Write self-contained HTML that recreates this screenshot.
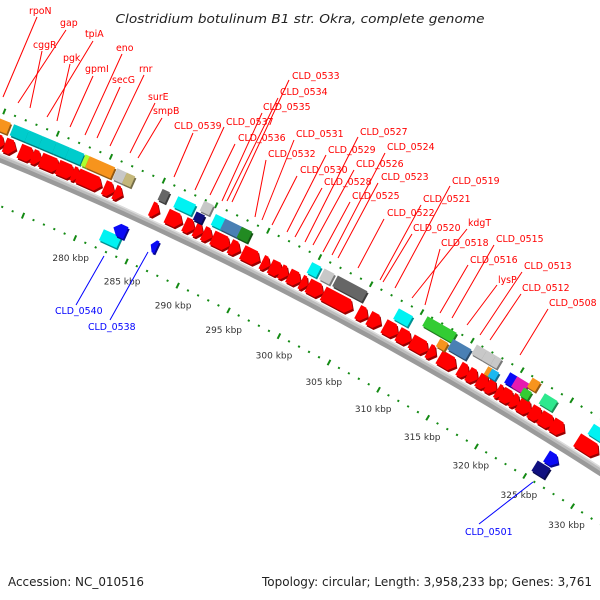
<!DOCTYPE html>
<html><head><meta charset="utf-8"><style>
html,body{margin:0;padding:0;background:#fff;}
svg{display:block;}
text{font-family:"DejaVu Sans","Liberation Sans",sans-serif;}
</style></head><body>
<svg id="map" width="600" height="600" viewBox="0 0 600 600" xmlns="http://www.w3.org/2000/svg">
<text x="300" y="23" text-anchor="middle" font-size="12.3" font-style="italic" fill="#222" textLength="369" lengthAdjust="spacingAndGlyphs">Clostridium botulinum B1 str. Okra, complete genome</text>
<g id="rings"></g>
<g id="backbone"></g>
<g id="features"></g>
<g id="labels"></g>
<text x="8" y="586" font-size="12" fill="#222" textLength="136" lengthAdjust="spacingAndGlyphs">Accession: NC_010516</text>
<text x="592" y="586" font-size="12" fill="#222" text-anchor="end" textLength="330" lengthAdjust="spacingAndGlyphs">Topology: circular; Length: 3,958,233 bp; Genes: 3,761</text>
</svg>
<script>
// ---- data (kbp) ----
const fwdStart = [270.3,271.1,272.5,273.7,274.5,276.1,277.5,278.0,280.5,281.5,285.0,286.5,288.2,289.2,290.0,290.9,292.6,293.8,295.7,296.5,297.5,298.3,299.5,300.2,301.7,305.1,306.2,307.7,309.1,310.4,312.1,313.2,315.2,316.1,317.1,318.0,319.0,319.5,320.5,321.2,322.4,323.4,324.6,327.2];
const fwdEnd   = [271.1,272.2,273.9,274.6,276.3,277.7,278.2,280.3,281.5,282.3,285.8,288.0,289.2,290.0,290.9,292.6,293.6,295.5,296.5,297.7,298.3,299.5,300.2,301.7,304.6,306.1,307.4,309.1,310.4,312.1,312.9,314.9,316.2,317.1,318.2,319.0,319.7,320.7,321.3,322.5,323.6,324.8,325.9,329.4];
const boxStart = [269.5,271.2,272.6,273.9,275.2,276.4,277.9,278.3,280.9,281.8,285.2,286.7,288.9,288.7,290.3,291.2,292.8,299.6,300.8,302.1,308.1,310.6,312.5,313.5,315.5,316.5,317.4,317.3,317.7,319.2,319.9,321.1,320.9,322.7,327.7];
const boxEnd   = [270.9,272.6,273.9,275.2,276.4,277.8,278.3,280.7,281.8,282.6,285.9,288.4,289.8,289.5,291.3,293.0,293.8,300.5,301.8,305.0,309.5,313.5,313.3,315.3,316.5,317.4,318.0,317.9,318.4,320.1,321.1,321.9,321.7,324.0,329.8];
const boxType  = ['orange','teal','teal','teal','teal','teal','lime','orange','silver','khaki','dimgray','cyan','silver','navy','cyan','steelblue','forest','cyan','silver','dimgray','cyan','limegreen','orange','steelblue','silver','silver','silver','orange','deepsky','blue','magenta','orange','limegreen','spring','cyan'];
const boxRow   = [0,0,0,0,0,0,0,0,0,0,0,0,2,1,0,0,0,0,0,0,0,2,1,0,2,2,2,1,1,0,0,2,1,0,0];
const revStart = [282.0,282.7,286.3,325.25,325.7];
const revEnd   = [283.7,283.9,286.9,326.55,326.9];
const revShape = ['box','rarrow','rarrow','box','farrow'];
const revType  = ['cyan','blue','blue','navy','blue'];
const revRow   = [1,0,0,1,0];
const tickMin = 262, tickMax = 342;
const tickLabels = [280,285,290,295,300,305,310,315,320,325,330];
const labelText = ['rpoN','gap','cggR','tpiA','pgk','gpmI','eno','secG','rnr','surE','smpB','CLD_0539','CLD_0537','CLD_0536','CLD_0535','CLD_0534','CLD_0533','CLD_0532','CLD_0531','CLD_0530','CLD_0529','CLD_0528','CLD_0527','CLD_0526','CLD_0525','CLD_0524','CLD_0523','CLD_0522','CLD_0521','CLD_0520','CLD_0519','kdgT','CLD_0518','CLD_0516','CLD_0515','lysP','CLD_0513','CLD_0512','CLD_0508'];
// ---- layout ----
const labelPos = [[29,14],[60,26],[33,48],[85,37],[63,61],[85,72],[116,51],[112,83],[139,72],[148,100],[153,114],[174,129],[226,125],[238,141],[263,110],[280,95],[292,79],[268,157],[296,137],[300,173],[328,153],[324,185],[360,135],[356,167],[352,199],[387,150],[381,180],[387,216],[423,202],[413,231],[452,184],[468,226],[441,246],[470,263],[496,242],[498,283],[524,269],[522,291],[549,306]];
const lineTop = [[37,17],[66,30],[42,51],[93,41],[70,64],[93,76],[122,54],[120,87],[144,75],[155,103],[162,118],[193,133],[224,127],[235,144],[262,113],[278,98],[289,80],[266,160],[294,140],[297,176],[326,155],[322,188],[358,137],[354,170],[350,202],[385,153],[378,183],[384,219],[421,205],[412,234],[450,186],[467,229],[440,249],[468,265],[494,245],[497,285],[522,272],[521,294],[548,309]];
const lineEnd = [[3,97],[18,103],[30,108],[47,117],[57,121],[70,127],[85,135],[97,138],[110,146],[130,153],[138,158],[174,177],[195,190],[210,195],[222,201],[227,201],[232,202],[255,217],[262,220],[272,225],[287,232],[295,237],[305,242],[313,245],[323,252],[332,255],[338,258],[358,268],[380,280],[383,282],[395,288],[412,298],[425,305],[440,313],[452,318],[467,325],[480,335],[490,340],[520,355]];

const NS='http://www.w3.org/2000/svg';
const R=3695, CX=-1402, CY=3576, PHI0=0.4166, DPHI=0.0031;
function pt(k,d){const p=PHI0+(k-280)*DPHI, r=R+d; return [CX+r*Math.sin(p), CY-r*Math.cos(p)];}
const COLORS={orange:'#f7941d',teal:'#00cccc',cyan:'#00f2f2',lime:'#adff2f',silver:'#c8c8c8',khaki:'#c4b77a',dimgray:'#666666',navy:'#101080',steelblue:'#4a80b4',forest:'#228b22',limegreen:'#33cc33',deepsky:'#1ab8f0',blue:'#0a0af5',magenta:'#e61bb0',spring:'#2ee88e',red:'#ff0000'};
function shade(hex,f){const n=parseInt(hex.slice(1),16);const r=Math.round(((n>>16)&255)*f),g=Math.round(((n>>8)&255)*f),b=Math.round((n&255)*f);return 'rgb('+r+','+g+','+b+')';}
function ptsStr(a,dx,dy){return a.map(p=>(p[0]+dx).toFixed(1)+','+(p[1]+dy).toFixed(1)).join(' ');}
function mk(tag,parent){const e=document.createElementNS(NS,tag);parent.appendChild(e);return e;}
function boxPts(k1,k2,d1,d2){return [pt(k1,d2),pt(k2,d2),pt(k2,d1),pt(k1,d1)];}
function fwdPts(k1,k2,d1,d2){const hl=Math.min(0.5,(k2-k1)*0.6),m=(d1+d2)/2;return [pt(k1,d2),pt(k2-hl,d2),pt(k2,m),pt(k2-hl,d1),pt(k1,d1)];}
function revPts(k1,k2,d1,d2){const hl=Math.min(0.5,(k2-k1)*0.6),m=(d1+d2)/2;return [pt(k1,m),pt(k1+hl,d2),pt(k2,d2),pt(k2,d1),pt(k1+hl,d1)];}
function drawShape(parent,pts,color,name){
  const s=mk('polygon',parent);
  s.setAttribute('points',ptsStr(pts,1.2,2));
  s.setAttribute('fill',shade(color,0.6));
  
  
  const p=mk('polygon',parent);
  p.setAttribute('points',ptsStr(pts,0,0));
  p.setAttribute('fill',color);
  
  
}

// rings
const rings=document.getElementById('rings');
[44,-45].forEach(function(rd){
  for(let k=tickMin;k<=tickMax;k++){
    const major=(k%5===0);
    const a=pt(k,rd+(major?3:1)), b=pt(k,rd-(major?3:1));
    const l=mk('line',rings);
    l.setAttribute('x1',a[0].toFixed(1));l.setAttribute('y1',a[1].toFixed(1));
    l.setAttribute('x2',b[0].toFixed(1));l.setAttribute('y2',b[1].toFixed(1));
    l.setAttribute('stroke','#138a13');l.setAttribute('stroke-width','2');
    
    
  }
});
tickLabels.forEach(function(k){
  const p=pt(k,-58);
  const t=mk('text',rings);
  t.setAttribute('x',(p[0]+1).toFixed(1));t.setAttribute('y',(p[1]+11).toFixed(1));
  t.setAttribute('text-anchor','middle');t.setAttribute('font-size','9');t.setAttribute('fill','#333');
  t.textContent=k+' kbp';
  
  
});

// backbone
const bb=document.getElementById('backbone');
function arcPath(d){let s='';for(let k=255;k<=345;k+=1){const p=pt(k,d);s+=(s?'L':'M')+p[0].toFixed(1)+','+p[1].toFixed(1);}return s;}
[[-1,8,'#9a9a9a'],[1.5,4,'#bdbdbd'],[2.8,1.5,'#dcdcdc']].forEach(function(c){
  const e=mk('path',bb);
  e.setAttribute('d',arcPath(c[0]));e.setAttribute('fill','none');e.setAttribute('stroke',c[2]);e.setAttribute('stroke-width',c[1]);
  
  
});

// features
const fg=document.getElementById('features');
for(let i=0;i<fwdStart.length;i++){
  drawShape(fg,fwdPts(fwdStart[i],fwdEnd[i],6,21),COLORS.red,'forward-gene');
}
const ROWS=[[24,36],[21,30],[32,43]];
for(let i=0;i<boxStart.length;i++){
  const r=ROWS[boxRow[i]];
  drawShape(fg,boxPts(boxStart[i],boxEnd[i],r[0],r[1]),COLORS[boxType[i]],'feature-box');
}
const RROWS=[[-26,-13],[-37,-25]];
for(let i=0;i<revStart.length;i++){
  const r=RROWS[revRow[i]];
  let pts;
  if(revShape[i]==='box') pts=boxPts(revStart[i],revEnd[i],r[0],r[1]);
  else if(revShape[i]==='rarrow') pts=revPts(revStart[i],revEnd[i],r[0],r[1]);
  else pts=fwdPts(revStart[i],revEnd[i],r[0]+3,r[1]+3);
  drawShape(fg,pts,COLORS[revType[i]],'reverse-gene');
}

// labels
const lg=document.getElementById('labels');
for(let i=0;i<labelText.length;i++){
  const l=mk('line',lg);
  l.setAttribute('x1',lineTop[i][0]);l.setAttribute('y1',lineTop[i][1]);
  l.setAttribute('x2',lineEnd[i][0]);l.setAttribute('y2',lineEnd[i][1]);
  l.setAttribute('stroke','#ff0000');l.setAttribute('stroke-width','1');
  
  
  const t=mk('text',lg);
  t.setAttribute('x',labelPos[i][0]);t.setAttribute('y',labelPos[i][1]);
  t.setAttribute('font-size','9.4');t.setAttribute('fill','#ff0000');
  t.textContent=labelText[i];
  
  
}
const blueLabels=['CLD_0540','CLD_0538','CLD_0501'];
const bluePos=[[55,314],[88,330],[465,535]];
const blueTop=[[76,305],[110,320],[479,524]];
const blueEnd=[[104,256],[148,252],[533,482]];
for(let i=0;i<blueLabels.length;i++){
  const l=mk('line',lg);
  l.setAttribute('x1',blueTop[i][0]);l.setAttribute('y1',blueTop[i][1]);
  l.setAttribute('x2',blueEnd[i][0]);l.setAttribute('y2',blueEnd[i][1]);
  l.setAttribute('stroke','#0000ff');l.setAttribute('stroke-width','1');
  
  
  const t=mk('text',lg);
  t.setAttribute('x',bluePos[i][0]);t.setAttribute('y',bluePos[i][1]);
  t.setAttribute('font-size','9.4');t.setAttribute('fill','#0000ff');
  t.textContent=blueLabels[i];
  
  
}
</script>
</body></html>
